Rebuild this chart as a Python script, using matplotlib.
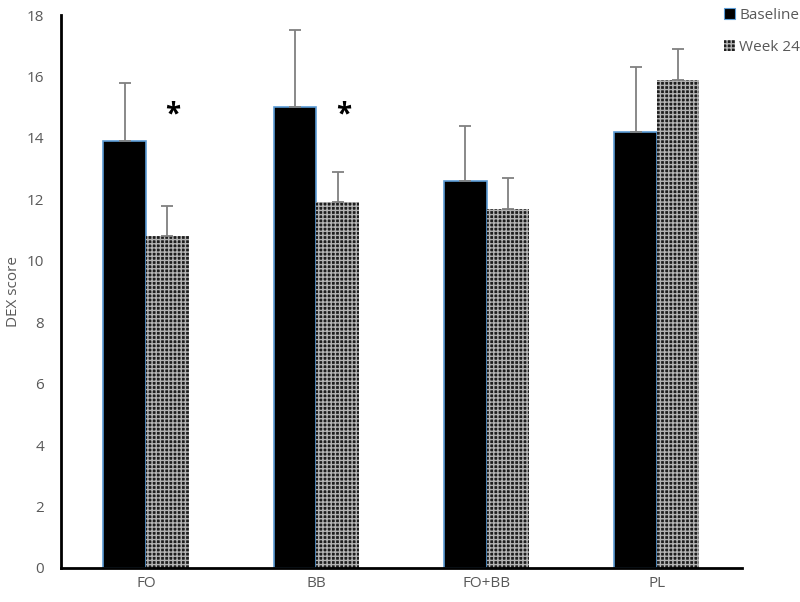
import numpy as np
import matplotlib.pyplot as plt
from matplotlib.patches import Patch

plt.rcParams['font.family'] = ['Open Sans', 'DejaVu Sans']
plt.rcParams['hatch.linewidth'] = 1.0

groups = ['FO', 'BB', 'FO+BB', 'PL']
baseline = [13.9, 15.0, 12.6, 14.2]
baseline_err = [1.9, 2.5, 1.8, 2.1]
week24 = [10.8, 11.9, 11.7, 15.9]
week24_err = [1.0, 1.0, 1.0, 1.0]
stars = [True, True, False, False]

fig = plt.figure(figsize=[8, 6.02], dpi=100)
ax = fig.add_axes([0.076, 0.0565, 0.8515, 0.9185])

x = np.arange(len(groups))
w = 0.25
gray = '#595959'
hatch_bg = '#1e1e1e'
hatch_fg = '#b4b4b4'

ax.bar(x - w/2, baseline, w, color='black', edgecolor='#5b9bd5', linewidth=1.2, zorder=2)
ax.bar(x + w/2, week24, w, color=hatch_bg, edgecolor=hatch_fg, hatch='++++', linewidth=0, zorder=2)
ax.errorbar(x - w/2, baseline, yerr=[np.zeros(4), baseline_err], fmt='none',
            ecolor='#808080', elinewidth=1.3, capsize=4, capthick=1.3, zorder=3)
ax.errorbar(x + w/2, week24, yerr=[np.zeros(4), week24_err], fmt='none',
            ecolor='#808080', elinewidth=1.3, capsize=4, capthick=1.3, zorder=3)

for i in range(len(groups)):
    if stars[i]:
        ax.text(x[i] + 0.16, 14.75, '*', ha='center', va='center', fontsize=20,
                fontweight='bold', color='black')

ax.set_xlim(-0.5, 3.5)
ax.set_ylim(0, 18)
ax.set_yticks(range(0, 19, 2))
ax.set_xticks(x)
ax.set_xticklabels(groups)
ax.tick_params(length=0, labelsize=11, colors=gray, pad=6)
ax.tick_params(axis='y', pad=12)
ax.set_ylabel('DEX score', fontsize=11, color=gray, labelpad=4)
for s in ['top', 'right']:
    ax.spines[s].set_visible(False)
ax.spines['left'].set_linewidth(2)
ax.spines['bottom'].set_linewidth(2)

handles = [Patch(facecolor='black', edgecolor='#5b9bd5', linewidth=0.8),
           Patch(facecolor=hatch_bg, edgecolor=hatch_fg, hatch='++++', linewidth=0)]
fig.legend(handles, ['Baseline', 'Week 24'], loc='upper left',
           bbox_to_anchor=(0.888, 1.01), frameon=False, fontsize=11,
           handlelength=0.7, handleheight=0.7, handletextpad=0.3,
           labelspacing=1.1, labelcolor=gray)

plt.savefig('out.png', dpi=100)
